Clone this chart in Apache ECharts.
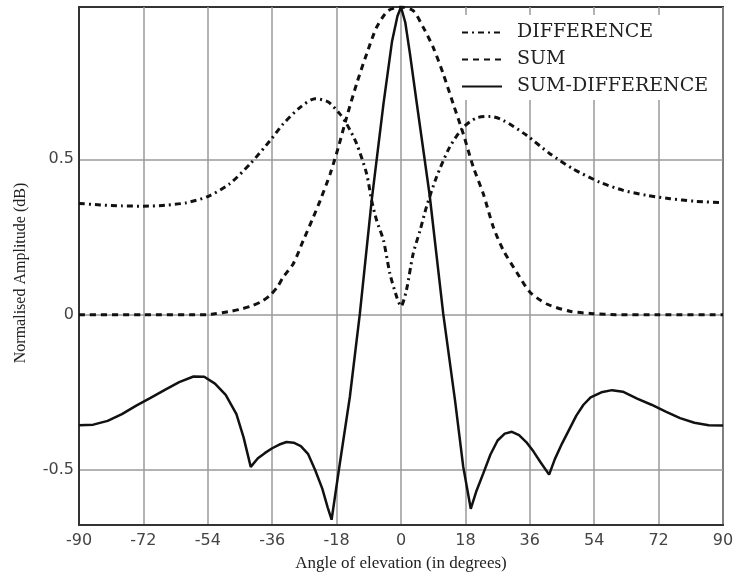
<!DOCTYPE html>
<html>
<head>
<meta charset="utf-8">
<script src="https://cdn.jsdelivr.net/npm/echarts@6/dist/echarts.min.js"></script>
<style>
  html, body { margin: 0; padding: 0; background: #fff; }
  #chart { width: 737px; height: 579px; }
</style>
</head>
<body>
<div id="chart"></div>
<script>
// ---- data ----
const xTicks = [-90, -72, -54, -36, -18, 0, 18, 36, 54, 72, 90];
const yTicks = [-0.5, 0, 0.5];

const diffAngles = [-90, -84, -78, -72, -66, -60, -54, -48, -42, -36.6, -32.9, -28.2, -24, -20.3, -17.1, -15.2, -12.4, -9.6, -8.2, -6.8, -4.9, -3.1, -1.2, 0, 1.5, 3.4, 5.3, 7.1, 9.9, 13.6, 17.4, 21.1, 24.9, 28.6, 35.1, 41.6, 48.1, 55.6, 62.1, 68.6, 75.2, 82, 90];
const diffValues = [0.358, 0.353, 0.350, 0.349, 0.352, 0.360, 0.380, 0.420, 0.487, 0.560, 0.614, 0.667, 0.695, 0.684, 0.646, 0.614, 0.550, 0.453, 0.367, 0.303, 0.239, 0.132, 0.057, 0.027, 0.078, 0.196, 0.270, 0.346, 0.442, 0.539, 0.603, 0.633, 0.638, 0.625, 0.577, 0.518, 0.469, 0.426, 0.400, 0.384, 0.373, 0.365, 0.360];

const sumAngles = [-90, -72, -54, -52, -48, -45, -42, -39, -36.6, -34.5, -32.9, -30.1, -27.3, -24.5, -22.6, -19.8, -17.5, -15.2, -12.4, -9.6, -6.8, -3.6, 0, 3.4, 6.2, 9, 11.8, 14.6, 17.4, 20.2, 23, 25.8, 28.6, 32.3, 36, 40.6, 47.2, 53.7, 60, 72, 90];
const sumValues = [0, 0, 0, 0.003, 0.010, 0.017, 0.027, 0.042, 0.062, 0.090, 0.121, 0.164, 0.239, 0.314, 0.367, 0.453, 0.539, 0.635, 0.743, 0.839, 0.925, 0.978, 0.99, 0.978, 0.925, 0.860, 0.775, 0.678, 0.582, 0.475, 0.389, 0.282, 0.207, 0.137, 0.073, 0.035, 0.011, 0.003, 0, 0, 0];

const sdAngles = [-90, -86, -82, -78, -74, -70, -66, -62, -58, -55, -52, -49, -46, -44, -42, -40, -38, -36, -34, -32, -30, -28, -26, -24, -22, -20.5, -19.4, -17.1, -14.3, -11.5, -8.2, -4.9, -2.5, -1, 0, 1.2, 2.5, 4.3, 8, 11.8, 15.1, 17.4, 19.5, 21, 23, 25, 27, 29, 31, 33, 35, 37, 39, 41.4, 43, 45, 47, 49, 51, 53, 56, 59, 62, 66, 70, 74, 78, 82, 86, 90];
const sdValues = [-0.356, -0.354, -0.342, -0.320, -0.293, -0.268, -0.242, -0.217, -0.199, -0.200, -0.222, -0.258, -0.320, -0.395, -0.490, -0.462, -0.445, -0.430, -0.418, -0.410, -0.412, -0.423, -0.448, -0.500, -0.560, -0.620, -0.660, -0.479, -0.265, 0.003, 0.367, 0.678, 0.880, 0.960, 0.990, 0.940, 0.840, 0.689, 0.385, 0.003, -0.276, -0.490, -0.625, -0.570, -0.511, -0.450, -0.405, -0.383, -0.377, -0.388, -0.410, -0.440, -0.475, -0.515, -0.465, -0.415, -0.370, -0.325, -0.290, -0.266, -0.250, -0.243, -0.248, -0.270, -0.290, -0.312, -0.333, -0.348, -0.356, -0.357];

const seriesNames = ['DIFFERENCE', 'SUM', 'SUM-DIFFERENCE'];
const xTitle = 'Angle of elevation (in degrees)';
const yTitle = 'Normalised Amplitude (dB)';

function pairs(xs, ys) { return xs.map((x, i) => [x, ys[i]]); }

const chart = echarts.init(document.getElementById('chart'));
const ink = '#111';
chart.setOption({
  animation: false,
  backgroundColor: '#fff',
  grid: { left: 79, right: 14, top: 7, bottom: 54, show: true, borderColor: '#333', borderWidth: 2, backgroundColor: 'transparent' },
  legend: {
    data: seriesNames,
    orient: 'vertical',
    left: 455, top: 15,
    itemWidth: 40, itemHeight: 14, itemGap: 8,
    backgroundColor: '#fff',
    padding: [8, 6, 4, 6],
    itemStyle: { opacity: 0, borderWidth: 0 },
    textStyle: { fontFamily: 'DejaVu Serif', fontSize: 19, color: '#222', padding: [0, 0, 0, 10] }
  },
  xAxis: {
    type: 'value', min: -90, max: 90, interval: 18,
    name: xTitle, nameLocation: 'middle', nameGap: 30,
    nameTextStyle: { fontFamily: 'Liberation Serif', fontSize: 17, color: '#222' },
    axisLine: { show: true, onZero: false, lineStyle: { color: '#333', width: 2 } },
    axisTick: { show: false },
    axisLabel: { fontFamily: 'DejaVu Sans', fontSize: 16, color: '#444', margin: 8, customValues: xTicks },
    splitLine: { show: true, lineStyle: { color: '#9a9a9a', width: 1.5 } }
  },
  yAxis: {
    type: 'value', min: -0.677, max: 0.99,
    name: yTitle, nameLocation: 'middle', nameGap: 50,
    nameTextStyle: { fontFamily: 'Liberation Serif', fontSize: 16, color: '#222', padding: [0, 14, 0, 0] },
    axisLine: { show: true, onZero: false, lineStyle: { color: '#333', width: 2 } },
    axisTick: { show: false, customValues: yTicks },
    axisLabel: { fontFamily: 'DejaVu Sans', fontSize: 16, color: '#444', margin: 5, customValues: yTicks },
    splitLine: { show: true, lineStyle: { color: '#9a9a9a', width: 1.5 } }
  },
  series: [
    { name: seriesNames[0], type: 'line', symbol: 'none', smooth: 0.25, data: pairs(diffAngles, diffValues),
      lineStyle: { color: ink, width: 3, type: [6, 4, 2, 4] }, itemStyle: { color: ink } },
    { name: seriesNames[1], type: 'line', symbol: 'none', smooth: 0.25, data: pairs(sumAngles, sumValues),
      lineStyle: { color: ink, width: 3, type: [6, 5] }, itemStyle: { color: ink } },
    { name: seriesNames[2], type: 'line', symbol: 'none', smooth: false, data: pairs(sdAngles, sdValues),
      lineStyle: { color: ink, width: 2.5, type: 'solid' }, itemStyle: { color: ink } }
  ]
});
</script>
</body>
</html>
